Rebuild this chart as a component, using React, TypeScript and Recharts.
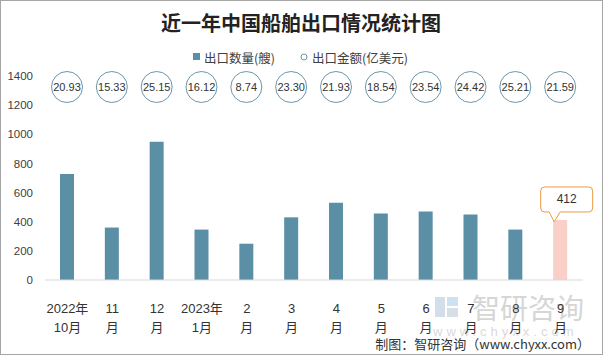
import React from 'react';
import { BarChart, Bar, XAxis, YAxis, LabelList, Cell } from 'recharts';

// 出口数量(艘) 与 出口金额(亿美元)
const months = ['2022年|10月', '11|月', '12|月', '2023年|1月', '2|月', '3|月', '4|月', '5|月', '6|月', '7|月', '8|月', '9|月'];
const shipCounts = [728, 360, 948, 346, 249, 430, 530, 456, 470, 450, 346, 412];
const exportAmounts = [20.93, 15.33, 25.15, 16.12, 8.74, 23.3, 21.93, 18.54, 23.54, 24.42, 25.21, 21.59];
const yTicks = [0, 200, 400, 600, 800, 1000, 1200, 1400];

const BAR_COLOR = '#5b8fa6';
const LAST_COLOR = '#f8d0c7';
const CIRCLE_COLOR = '#6c97ab';
const CALLOUT_COLOR = '#ee9a44';
const CJK = '"Noto Sans CJK SC", sans-serif';
const NUM = '"Liberation Sans", "Noto Sans CJK SC", sans-serif';

const data = months.map((m, i) => ({
  month: m,
  count: shipCounts[i],
  amount: exportAmounts[i],
}));

const MonthTick = (props: any) => {
  const { x, y, payload } = props;
  const [top, bottom] = String(payload.value).split('|');
  return (
    <g>
      <text x={x} y={y + 20} textAnchor="middle" dominantBaseline="central" fontSize={13} fill="#333" fontFamily={NUM}>{top}</text>
      <text x={x} y={y + 39} textAnchor="middle" dominantBaseline="central" fontSize={13} fill="#333" fontFamily={NUM}>{bottom}</text>
    </g>
  );
};

const AmountCircle = (props: any) => {
  const vb = props.viewBox || {};
  const x = props.x ?? vb.x;
  const width = props.width ?? vb.width;
  const cx = x + width / 2;
  const cy = 87;
  return (
    <g>
      <circle cx={cx} cy={cy} r={15.5} fill="#fff" stroke={CIRCLE_COLOR} strokeWidth={1} />
      <text x={cx} y={cy} textAnchor="middle" dominantBaseline="central" fontSize={11} fill="#333" fontFamily={NUM}>
        {Number(props.value).toFixed(2)}
      </text>
    </g>
  );
};

const Callout = (props: any) => {
  if (props.index !== data.length - 1) return null;
  const vb = props.viewBox || {};
  const x = props.x ?? vb.x;
  const y = props.y ?? vb.y;
  const width = props.width ?? vb.width;
  const cx = x + width / 2;
  const left = cx - 19.5;
  const right = cx + 32.5;
  const top = y - 33;
  const bottom = y - 8;
  const r = 4;
  const d = `M${left + r},${top} L${right - r},${top} Q${right},${top} ${right},${top + r} L${right},${bottom - r} Q${right},${bottom} ${right - r},${bottom} L${cx},${bottom} L${cx - 6},${y + 2} L${cx - 11},${bottom} L${left + r},${bottom} Q${left},${bottom} ${left},${bottom - r} L${left},${top + r} Q${left},${top} ${left + r},${top} Z`;
  return (
    <g>
      <path d={d} fill="#fff" stroke={CALLOUT_COLOR} strokeWidth={1} />
      <text x={(left + right) / 2} y={(top + bottom) / 2} textAnchor="middle" dominantBaseline="central" fontSize={12} fill="#333" fontFamily={NUM}>
        {props.value}
      </text>
    </g>
  );
};

export default function App() {
  return (
    <div style={{ position: 'absolute', left: 0, top: 0, width: 603, height: 355, background: '#fff', overflow: 'hidden' }}>
      {/* watermark */}
      <svg width={603} height={355} style={{ position: 'absolute', left: 0, top: 0 }}>
        <rect x={435} y={297} width={10} height={20} fill="#d3deea" />
        <rect x={447} y={297} width={11} height={9} fill="#cfe0f0" />
        <rect x={447} y={308} width={11} height={9} fill="#d8dee6" />
        <text x={472} y={307} dominantBaseline="central" fontSize={28} fill="#d6d6d6" fontFamily={CJK}>智研咨询</text>
        <text x={433} y={331} dominantBaseline="central" fontSize={13} fill="#dadada" fontFamily={NUM} letterSpacing={4}>www.chyxx.com</text>
      </svg>
      <div style={{ position: 'absolute', left: 0, top: 0 }}>
        <BarChart width={603} height={355} data={data} margin={{ top: 76, right: 20, left: 0, bottom: 0 }}>
          <YAxis
            domain={[0, 1400]}
            ticks={yTicks}
            width={45}
            axisLine={false}
            tickLine={false}
            tickMargin={6}
            tick={{ fontSize: 11.5, fill: '#404040', fontFamily: NUM }}
          />
          <XAxis
            dataKey="month"
            height={75}
            interval={0}
            tickLine={false}
            axisLine={{ stroke: '#d9d9d9' }}
            tick={<MonthTick />}
          />
          <Bar dataKey="count" barSize={14} isAnimationActive={false}>
            {data.map((d, i) => (
              <Cell key={d.month} fill={i === data.length - 1 ? LAST_COLOR : BAR_COLOR} />
            ))}
            <LabelList dataKey="amount" content={<AmountCircle />} />
            <LabelList dataKey="count" content={<Callout />} />
          </Bar>
        </BarChart>
      </div>
      <svg width={603} height={355} style={{ position: 'absolute', left: 0, top: 0, pointerEvents: 'none' }}>
        <text x={301} y={22} textAnchor="middle" dominantBaseline="central" fontSize={20} fontWeight="bold" fill="#222" fontFamily={CJK}>
          近一年中国船舶出口情况统计图
        </text>
        <rect x={193} y={53} width={7} height={7} fill={BAR_COLOR} />
        <text x={204} y={57} dominantBaseline="central" fontSize={12.5} fill="#404040" fontFamily={CJK}>出口数量(艘)</text>
        <circle cx={304} cy={57} r={3} fill="#fff" stroke={CIRCLE_COLOR} strokeWidth={1} />
        <text x={312} y={57} dominantBaseline="central" fontSize={12.5} fill="#404040" fontFamily={CJK}>出口金额(亿美元)</text>
        <text x={590} y={343} textAnchor="end" dominantBaseline="central" fontSize={13} fill="#333" fontFamily={CJK}>
          制图：智研咨询（www.chyxx.com）
        </text>
        <rect x={0.5} y={0.5} width={602} height={354} fill="none" stroke="#a6a6a6" strokeWidth={1} />
      </svg>
    </div>
  );
}
